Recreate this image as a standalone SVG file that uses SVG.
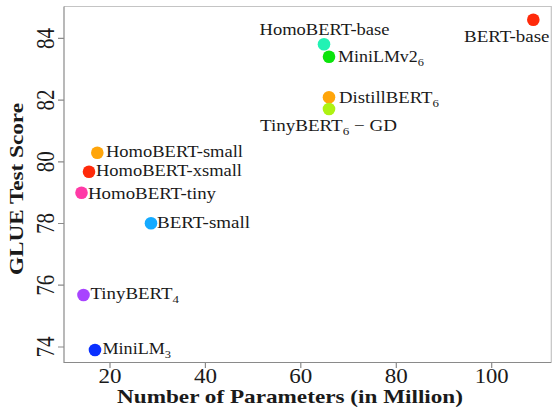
<svg xmlns="http://www.w3.org/2000/svg" width="552" height="407" viewBox="0 0 552 407">
  <style>
    text { font-family: "Liberation Serif", "Times New Roman", serif; fill: #1a1a1a; }
    .lbl { font-size: 16px; }
    .sub { font-size: 11px; }
    .tick { font-size: 21px; }
    .title { font-size: 19px; font-weight: bold; }
    .axis { stroke: #8a8a8a; stroke-width: 1.2; fill: none; }
    .box { stroke: #c4c4c4; stroke-width: 1.2; fill: none; }
    .dot { stroke: none; }
  </style>

  <rect width="552" height="407" fill="#ffffff"/>

  <!-- plot frame -->
  <g id="frame">
    <path class="box" d="M64 6.5 H551.3 V362.5"/>
    <path class="axis" d="M64 6.5 V362.5 H551.3"/>
  </g>

  <!-- axis ticks -->
  <g id="ticks" class="axis">
    <path d="M58 38.4 H64 M58 100.1 H64 M58 161.8 H64 M58 223.5 H64 M58 285.2 H64 M58 347 H64"/>
    <path d="M110 362.5 V368 M205.4 362.5 V368 M300.8 362.5 V368 M396.3 362.5 V368 M491.7 362.5 V368"/>
  </g>

  <!-- tick labels -->
  <g id="ytick-labels" class="tick" text-anchor="middle">
    <text transform="translate(53.5,38.4) scale(1.17,1) rotate(-90)" textLength="21">84</text>
    <text transform="translate(53.5,100.1) scale(1.17,1) rotate(-90)" textLength="21">82</text>
    <text transform="translate(53.5,161.8) scale(1.17,1) rotate(-90)" textLength="21">80</text>
    <text transform="translate(53.5,223.5) scale(1.17,1) rotate(-90)" textLength="21">78</text>
    <text transform="translate(53.5,285.2) scale(1.17,1) rotate(-90)" textLength="21">76</text>
    <text transform="translate(53.5,347) scale(1.17,1) rotate(-90)" textLength="21">74</text>
  </g>
  <g id="xtick-labels" class="tick" text-anchor="middle">
    <text x="110" y="382.5" textLength="23" lengthAdjust="spacingAndGlyphs">20</text>
    <text x="205.4" y="382.5" textLength="23" lengthAdjust="spacingAndGlyphs">40</text>
    <text x="300.8" y="382.5" textLength="23" lengthAdjust="spacingAndGlyphs">60</text>
    <text x="396.3" y="382.5" textLength="23" lengthAdjust="spacingAndGlyphs">80</text>
    <text x="491.7" y="382.5" textLength="34" lengthAdjust="spacingAndGlyphs">100</text>
  </g>

  <!-- axis titles -->
  <text id="x-title" class="title" x="117" y="403" textLength="346" lengthAdjust="spacingAndGlyphs">Number of Parameters (in Million)</text>
  <text id="y-title" class="title" transform="translate(22.5,275) rotate(-90)" textLength="172" lengthAdjust="spacingAndGlyphs">GLUE Test Score</text>

  <!-- data points -->
  <g id="bert-base">
    <circle class="dot" cx="533.3" cy="19.7" r="6.3" fill="#ff2a0a"/>
    <text class="lbl" x="464" y="41.5" textLength="85.5" lengthAdjust="spacingAndGlyphs">BERT-base</text>
  </g>
  <g id="homobert-base">
    <circle class="dot" cx="324" cy="44.3" r="6.3" fill="#22f2b4"/>
    <text class="lbl" x="259.5" y="35" textLength="130" lengthAdjust="spacingAndGlyphs">HomoBERT-base</text>
  </g>
  <g id="minilmv2-6">
    <circle class="dot" cx="329" cy="56.7" r="6.3" fill="#0be40b"/>
    <text class="lbl" x="338" y="62" textLength="86" lengthAdjust="spacingAndGlyphs">MiniLMv2<tspan class="sub" dy="4">6</tspan></text>
  </g>
  <g id="distillbert-6">
    <circle class="dot" cx="329" cy="97.3" r="6.3" fill="#ffa50a"/>
    <text class="lbl" x="339" y="103" textLength="100" lengthAdjust="spacingAndGlyphs">DistillBERT<tspan class="sub" dy="4">6</tspan></text>
  </g>
  <g id="tinybert-6-gd">
    <circle class="dot" cx="329" cy="109" r="6.3" fill="#aef212"/>
    <text class="lbl" x="260" y="130.7" textLength="137" lengthAdjust="spacingAndGlyphs">TinyBERT<tspan class="sub" dy="4">6</tspan><tspan dy="-4"> − GD</tspan></text>
  </g>
  <g id="homobert-small">
    <circle class="dot" cx="97.3" cy="152.7" r="6.3" fill="#ffa50a"/>
    <text class="lbl" x="106" y="156.7" textLength="137" lengthAdjust="spacingAndGlyphs">HomoBERT-small</text>
  </g>
  <g id="homobert-xsmall">
    <circle class="dot" cx="89" cy="171.7" r="6.3" fill="#ff2a0a"/>
    <text class="lbl" x="96" y="176" textLength="146" lengthAdjust="spacingAndGlyphs">HomoBERT-xsmall</text>
  </g>
  <g id="homobert-tiny">
    <circle class="dot" cx="81.5" cy="192.7" r="6.3" fill="#ff3aa6"/>
    <text class="lbl" x="88" y="198.5" textLength="128" lengthAdjust="spacingAndGlyphs">HomoBERT-tiny</text>
  </g>
  <g id="bert-small">
    <circle class="dot" cx="151" cy="223.3" r="6.3" fill="#14aaff"/>
    <text class="lbl" x="157" y="227.5" textLength="93" lengthAdjust="spacingAndGlyphs">BERT-small</text>
  </g>
  <g id="tinybert-4">
    <circle class="dot" cx="83.5" cy="295" r="6.3" fill="#a844ff"/>
    <text class="lbl" x="90.5" y="298.5" textLength="88.5" lengthAdjust="spacingAndGlyphs">TinyBERT<tspan class="sub" dy="4">4</tspan></text>
  </g>
  <g id="minilm-3">
    <circle class="dot" cx="95" cy="350" r="6.3" fill="#0a30ff"/>
    <text class="lbl" x="102.5" y="354" textLength="68.5" lengthAdjust="spacingAndGlyphs">MiniLM<tspan class="sub" dy="4">3</tspan></text>
  </g>
</svg>
